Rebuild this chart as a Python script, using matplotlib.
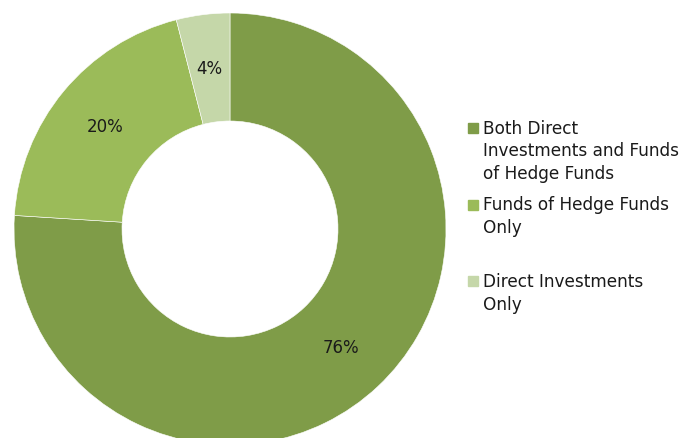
import matplotlib.pyplot as plt
from matplotlib.patches import Rectangle

# share of respondents by type of hedge fund exposure
categorias = ['Both Direct\nInvestments and Funds\nof Hedge Funds',
              'Funds of Hedge Funds\nOnly',
              'Direct Investments\nOnly']
percentuais = [76, 20, 4]
cores = ['#7f9c48', '#9bbb59', '#c5d7a9']

W, H = 698, 439
fig = plt.figure(figsize=(W / 100, H / 100), dpi=100)

# donut: center at (230, 230) px from the top, outer radius 216 px
R = 216
cx, cy = 230, H - 230
ax = fig.add_axes([(cx - R) / W, (cy - R) / H, 2 * R / W, 2 * R / H])
ax.pie(percentuais, colors=cores, startangle=90, counterclock=False,
       autopct=lambda p: f'{p:.0f}%', pctdistance=0.75,
       wedgeprops=dict(width=0.5, edgecolor='white', linewidth=0.4),
       textprops=dict(fontsize=12, color='#1a1a1a'))
ax.set_xlim(-1, 1)
ax.set_ylim(-1, 1)
ax.set_aspect('equal')
ax.axis('off')

# legend drawn by hand so the swatch sits on the first text line
base0 = 134
passo_item = 76.5
passo_linha = 22.5
for i, (nome, cor) in enumerate(zip(categorias, cores)):
    b = base0 + i * passo_item
    fig.patches.append(Rectangle((468 / W, (H - b) / H), 9.5 / W, 10 / H,
                                 transform=fig.transFigure, color=cor))
    for j, linha in enumerate(nome.split('\n')):
        fig.text(483 / W, (H - b - j * passo_linha) / H, linha,
                 fontsize=12.2, color='#1a1a1a', va='baseline', ha='left')

plt.savefig('out.png', dpi=100)
